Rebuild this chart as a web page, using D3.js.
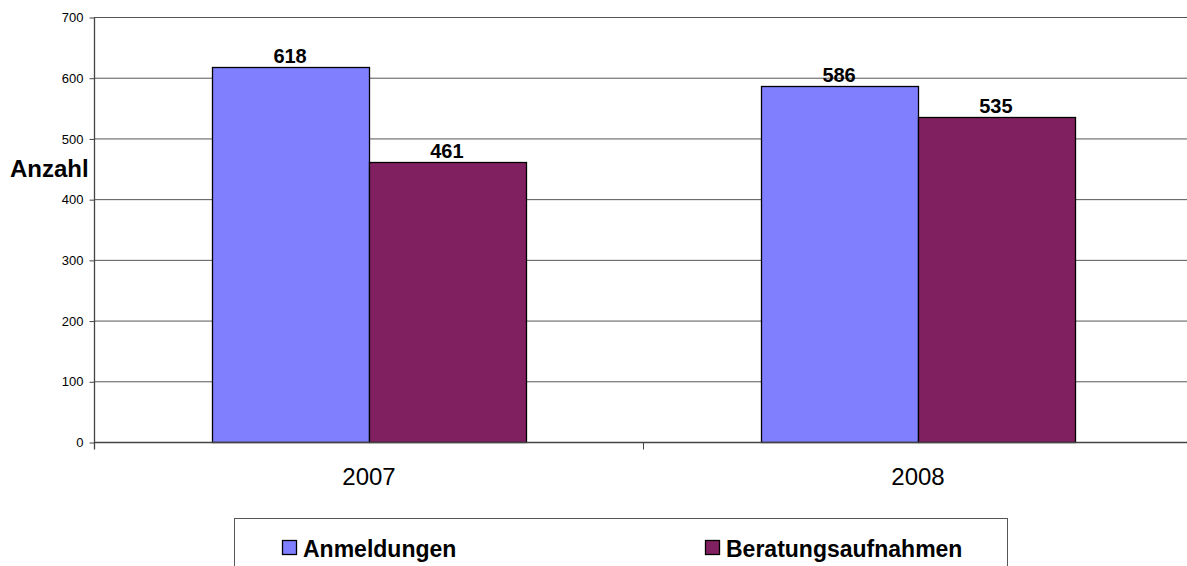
<!DOCTYPE html>
<html>
<head>
<meta charset="utf-8">
<script src="https://cdn.jsdelivr.net/npm/d3@7"></script>
<style>
  body { margin: 0; background: #fff; }
  svg { display: block; font-family: Arial, "Liberation Sans", sans-serif; }
</style>
</head>
<body>
<svg id="chart" width="1187" height="566"></svg>
<script>
const years = ['2007', '2008'];
const seriesNames = ['Anmeldungen', 'Beratungsaufnahmen'];
const anmeldungen = [618, 586];
const beratungsaufnahmen = [461, 535];
const yTicks = [0, 100, 200, 300, 400, 500, 600, 700];
const colors = ['#8080ff', '#802060'];

const svg = d3.select('#chart');
const plotLeft = 94, plotRight = 1192, plotTop = 17, plotBottom = 442;

const x = d3.scaleBand().domain(years).range([plotLeft, plotRight]);
const xs = d3.scaleBand().domain(seriesNames).range([0, x.bandwidth()]).paddingOuter(0.75);
const y = d3.scaleLinear().domain([0, 700]).range([plotBottom, plotTop]);

// gridlines
svg.append('g')
  .selectAll('line')
  .data(yTicks.slice(1))
  .enter()
  .append('line')
  .attr('x1', plotLeft).attr('x2', plotRight)
  .attr('y1', d => y(d) + 0.5).attr('y2', d => y(d) + 0.5)
  .attr('stroke', '#555').attr('stroke-width', 1);

// bars
const data = years.map((yr, i) => ({ year: yr, values: [anmeldungen[i], beratungsaufnahmen[i]] }));
const groups = svg.selectAll('g.grp')
  .data(data)
  .enter()
  .append('g')
  .attr('class', 'grp')
  .attr('transform', d => `translate(${x(d.year)},0)`);

groups.selectAll('rect')
  .data(d => d.values.map((v, j) => ({ name: seriesNames[j], v, j })))
  .enter()
  .append('rect')
  .attr('x', d => Math.round(xs(d.name)) + 0.5)
  .attr('y', d => Math.round(y(d.v)) + 0.5)
  .attr('width', Math.round(xs.bandwidth()))
  .attr('height', d => plotBottom - Math.round(y(d.v)))
  .attr('fill', d => colors[d.j])
  .attr('stroke', '#000')
  .attr('stroke-width', 1.3);

groups.selectAll('text.val')
  .data(d => d.values.map((v, j) => ({ name: seriesNames[j], v })))
  .enter()
  .append('text')
  .attr('class', 'val')
  .attr('x', d => xs(d.name) + xs.bandwidth() / 2)
  .attr('y', d => y(d.v) - 4)
  .attr('text-anchor', 'middle')
  .style('font-size', '20px')
  .style('font-weight', 'bold')
  .text(d => d.v);

// y axis
const yAxis = svg.append('g')
  .attr('transform', `translate(${plotLeft + 0.5},0.5)`)
  .call(d3.axisLeft(y).tickValues(yTicks).tickSize(5).tickSizeOuter(0).tickPadding(6));
yAxis.select('.domain').attr('stroke', '#444').attr('stroke-width', 1.3).attr('d', `M0,${plotTop}V${plotBottom + 7}`);
yAxis.selectAll('.tick line').attr('stroke', '#444');
yAxis.selectAll('.tick text').style('font-size', '13px').attr('fill', '#000');

// x axis
const xAxis = svg.append('g')
  .attr('transform', `translate(0.5,${plotBottom + 0.5})`)
  .call(d3.axisBottom(x).tickSize(0).tickPadding(25));
xAxis.select('.domain').attr('stroke', '#444').attr('stroke-width', 1.3).attr('d', `M${plotLeft},0H${plotRight}`);
xAxis.selectAll('.tick text').style('font-size', '24px').attr('fill', '#000');
xAxis.selectAll('line.sep')
  .data([x('2008')])
  .enter()
  .append('line')
  .attr('class', 'sep')
  .attr('x1', d => d).attr('x2', d => d)
  .attr('y1', 0).attr('y2', 7)
  .attr('stroke', '#444');

// axis title
svg.append('text')
  .attr('x', 10).attr('y', 177)
  .style('font-size', '24px')
  .style('font-weight', 'bold')
  .text('Anzahl');

// legend
svg.append('rect')
  .attr('x', 234.5).attr('y', 518.5)
  .attr('width', 773).attr('height', 60)
  .attr('fill', '#fff').attr('stroke', '#555');

const legX = d3.scaleOrdinal().domain(seriesNames).range([282, 705]);
const leg = svg.selectAll('g.leg')
  .data(seriesNames)
  .enter()
  .append('g')
  .attr('class', 'leg')
  .attr('transform', d => `translate(${legX(d)},540)`);
leg.append('rect')
  .attr('x', 0.5).attr('y', 0.5)
  .attr('width', 14).attr('height', 14)
  .attr('fill', (d, i) => colors[i])
  .attr('stroke', '#000')
  .attr('stroke-width', 1.3);
leg.append('text')
  .attr('x', 21).attr('y', 17)
  .style('font-size', '23px')
  .style('font-weight', 'bold')
  .text(d => d);
</script>
</body>
</html>
